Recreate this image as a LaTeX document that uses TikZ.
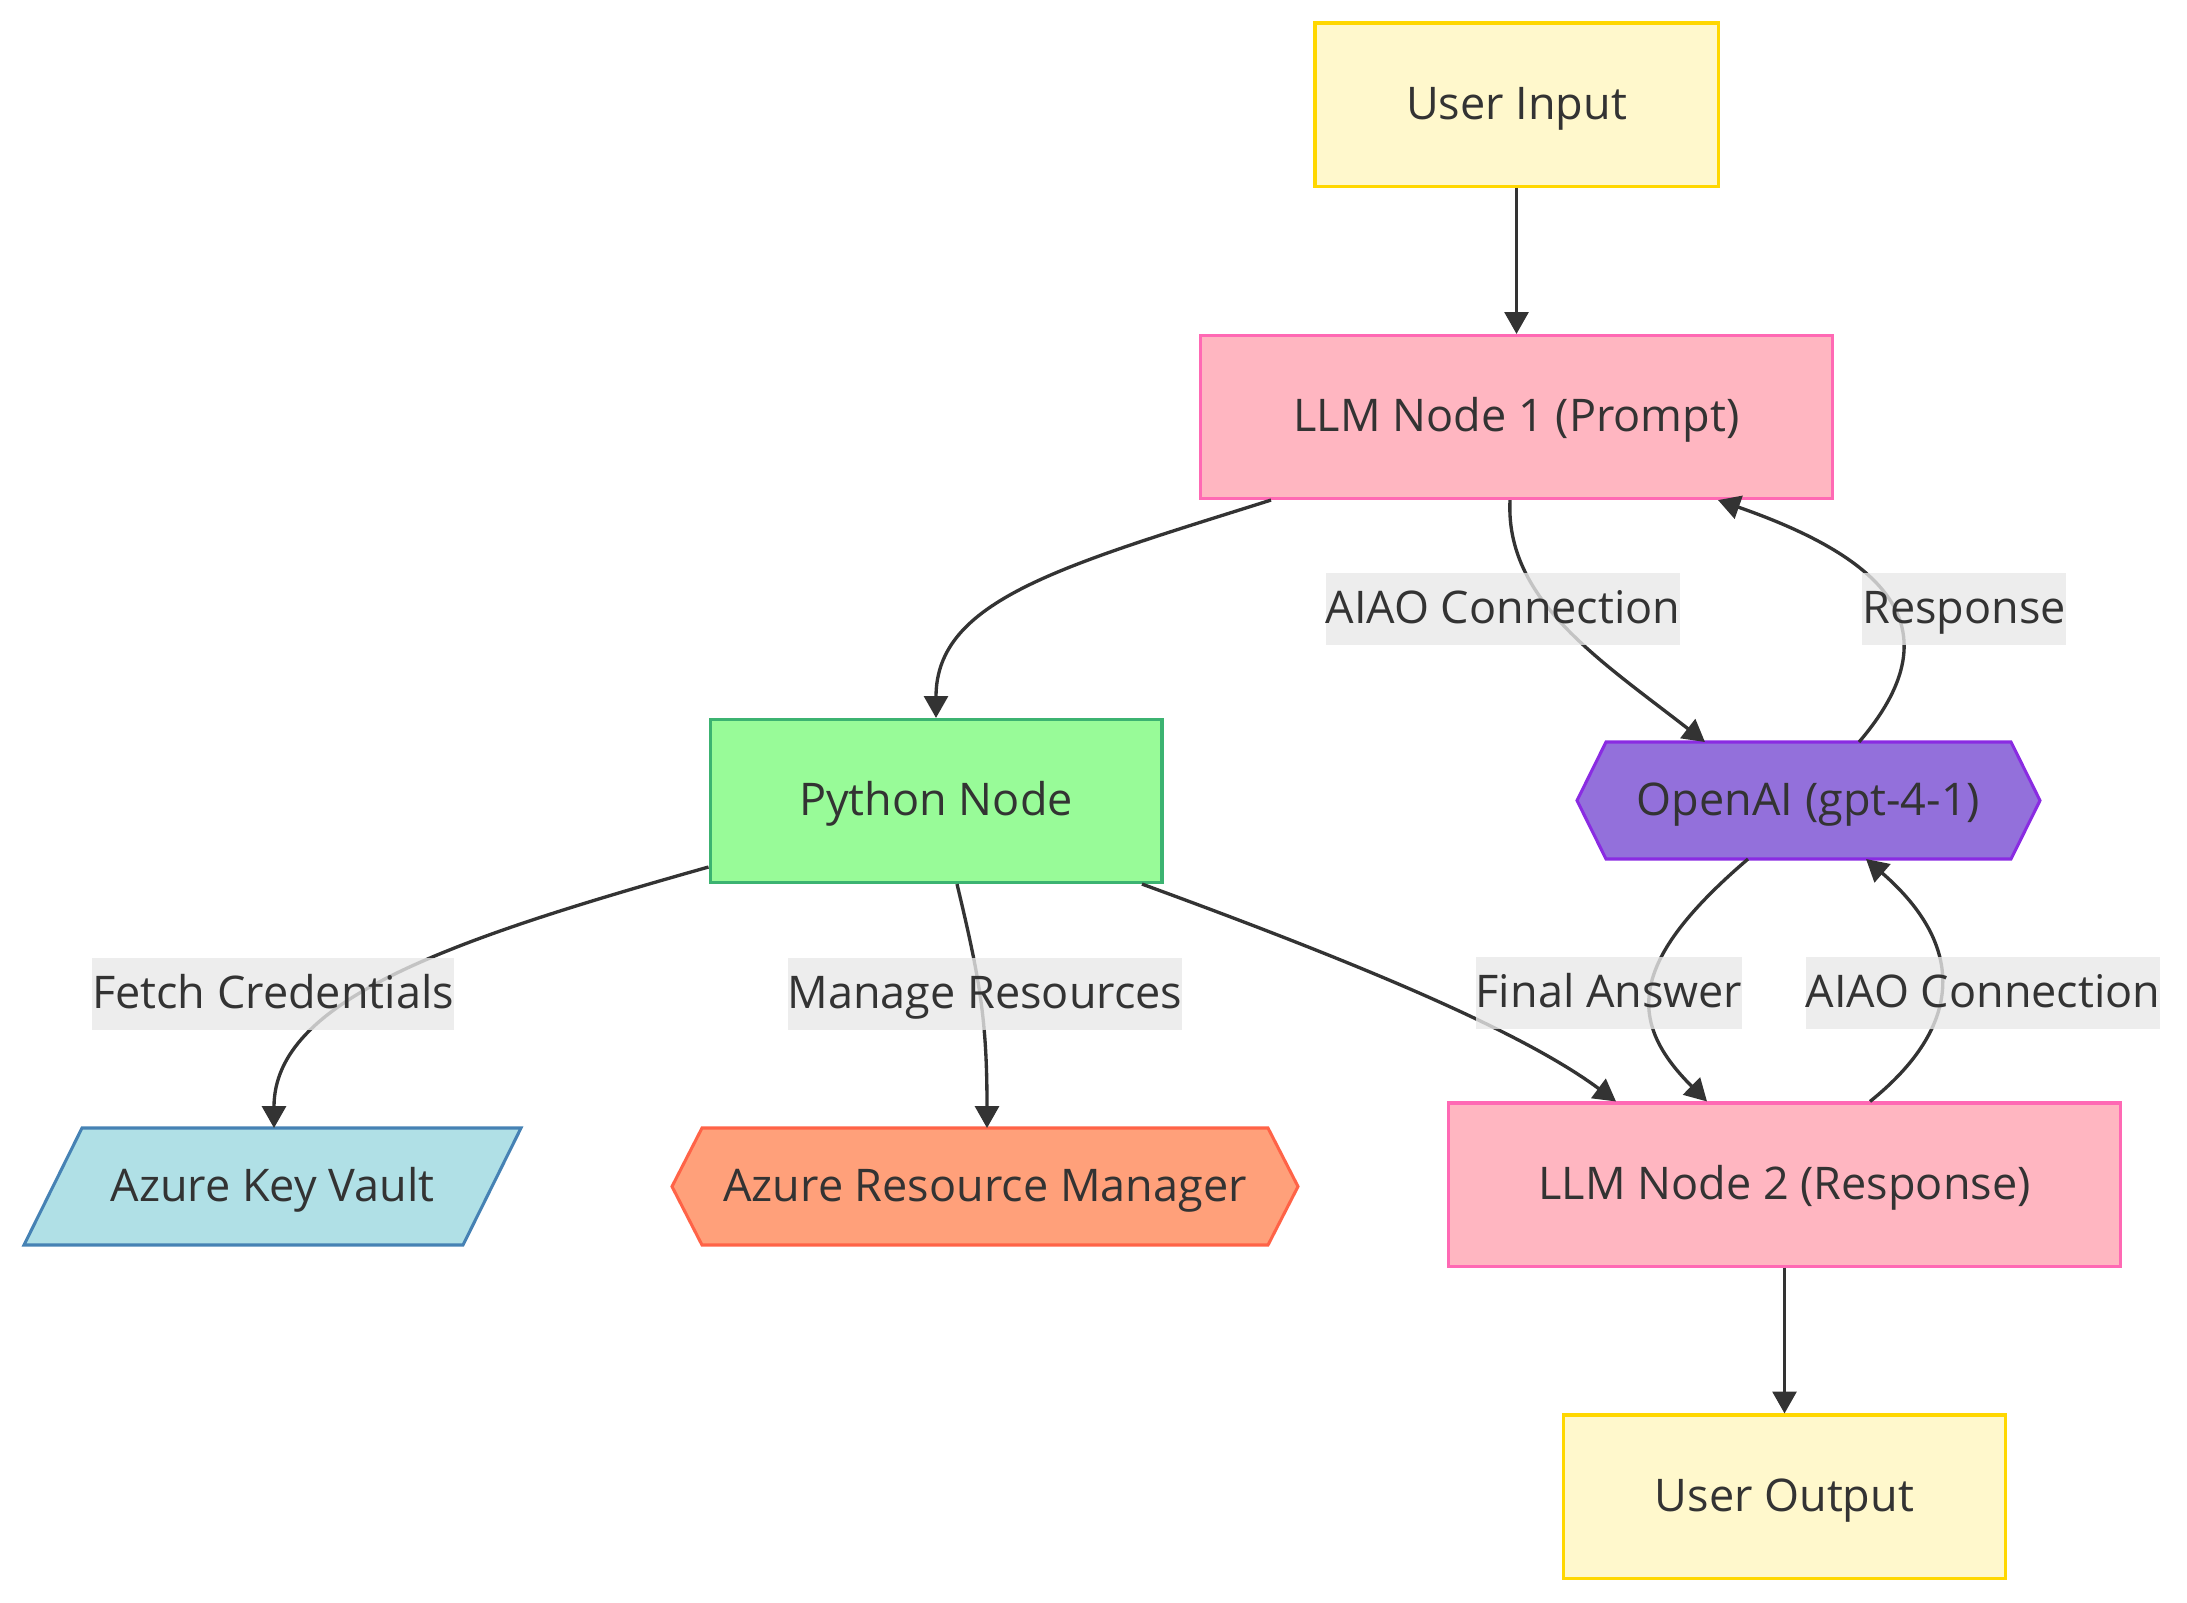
\documentclass[tikz,border=0pt]{standalone}
\usepackage{fontspec}
\setmainfont{Open Sans}
\usetikzlibrary{arrows.meta,calc}
\definecolor{tx}{HTML}{333333}
\definecolor{lblbg}{HTML}{E8E8E8}
\definecolor{uifill}{HTML}{FFF8CC}
\definecolor{uidraw}{HTML}{FFD700}
\definecolor{llmfill}{HTML}{FFB6C1}
\definecolor{llmdraw}{HTML}{FF69B4}
\definecolor{pyfill}{HTML}{98FB98}
\definecolor{pydraw}{HTML}{3CB371}
\definecolor{oaifill}{HTML}{9370DB}
\definecolor{oaidraw}{HTML}{8A2BE2}
\definecolor{kvfill}{HTML}{B0E0E6}
\definecolor{kvdraw}{HTML}{4682B4}
\definecolor{armfill}{HTML}{FFA07A}
\definecolor{armdraw}{HTML}{FF6347}
\begin{document}
\begin{tikzpicture}[x=0.36pt,y=-0.36pt,
  font=\fontsize{16.2}{20}\selectfont, text=tx,
  every node/.style={text height=14.6pt, text depth=4pt},
  box/.style={draw, line width=1.1pt, inner sep=0pt, minimum height=58.7pt},
  shapeline/.style={line width=1.1pt, line join=miter},
  holder/.style={inner sep=0pt, outer sep=0pt, minimum height=42.1pt},
  conn/.style={draw=tx, line width=1.2pt, -{Triangle[length=7.9pt,width=8.6pt]}},
  lbl/.style={fill=lblbg, fill opacity=0.8, text opacity=1, inner xsep=0pt, inner ysep=0pt, minimum height=25.9pt}]
\useasboundingbox (0,0) rectangle (2187,1602);

% rectangular nodes
\node[box, fill=uifill, draw=uidraw, minimum width=145.1pt] (ui) at (1516.5,104.5) {User Input};
\node[box, fill=llmfill, draw=llmdraw, minimum width=227.2pt] (llm1) at (1516.5,417) {LLM Node 1 (Prompt)};
\node[box, fill=pyfill, draw=pydraw, minimum width=162.7pt] (py) at (936,801) {Python Node};
\node[box, fill=llmfill, draw=llmdraw, minimum width=241.6pt] (llm2) at (1784.5,1184.5) {LLM Node 2 (Response)};
\node[box, fill=uifill, draw=uidraw, minimum width=159.1pt] (uo) at (1784.5,1496.5) {User Output};

% hexagons and parallelogram
\filldraw[shapeline, fill=oaifill, draw=oaidraw] (1577,800.5) -- (1606,742) -- (2011,742) -- (2040,800.5) -- (2011,859) -- (1606,859) -- cycle;
\node[holder, minimum width=166.7pt] (oai) at (1808.5,800.5) {OpenAI (gpt-4-1)};
\filldraw[shapeline, fill=armfill, draw=armdraw] (672,1186.5) -- (702,1128) -- (1268,1128) -- (1298,1186.5) -- (1268,1245) -- (702,1245) -- cycle;
\node[holder, minimum width=225.4pt] (arm) at (985,1186.5) {Azure Resource Manager};
\filldraw[shapeline, fill=kvfill, draw=kvdraw] (24,1245) -- (82,1128) -- (521,1128) -- (463,1245) -- cycle;
\node[holder, minimum width=178.9pt] (kv) at (272.5,1186.5) {Azure Key Vault};

% connectors
\draw[conn] (ui.south) -- (llm1.north);
\draw[conn] ($(llm1.south)+(-245.5,0)$) .. controls (1062,566) and (936,600) .. (py.north);
\draw[conn] ($(llm1.south)+(-6.5,0)$) .. controls (1505,600) and (1600,660) .. ($(oai.north)+(-103.5,0)$);
\draw[conn] ($(oai.north)+(50.5,0)$) .. controls (1955,630) and (1890,560) .. ($(llm1.south)+(201.5,0)$);
\draw[conn] ($(py.west)+(0,66)$) .. controls (450,940) and (274,1000) .. ($(kv.north)+(1.5,0)$);
\draw[conn] ($(py.south)+(21,0)$) .. controls (980,980) and (987,1020) .. ($(arm.north)+(2,0)$);
\draw[conn] ($(py.south)+(206,0)$) .. controls (1350,960) and (1520,1030) .. ($(llm2.north)+(-168.5,0)$);
\draw[conn] ($(oai.south)+(-60.5,0)$) .. controls (1630,960) and (1625,1020) .. ($(llm2.north)+(-77.5,0)$);
\draw[conn] ($(llm2.north)+(85.5,0)$) .. controls (1965,1025) and (1965,945) .. ($(oai.south)+(57.5,0)$);
\draw[conn] (llm2.south) -- (uo.north);

% edge labels
\node[lbl] (l1) at (1503,609) {AIAO Connection};
\node[lbl] (l2) at (1964,609) {Response};
\node[lbl] (l3) at (273,994) {Fetch Credentials};
\node[lbl] (l4) at (985,994) {Manage Resources};
\node[lbl] (l5) at (1609,993) {Final Answer};
\node[lbl] (l6) at (1983,993) {AIAO Connection};
\end{tikzpicture}
\end{document}
